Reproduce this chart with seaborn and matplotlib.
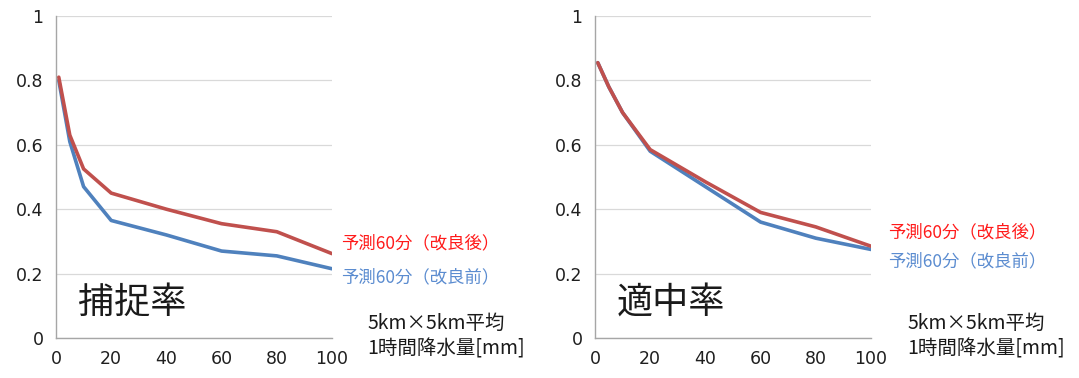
import matplotlib
matplotlib.use("Agg")
import matplotlib.pyplot as plt
import seaborn as sns
import pandas as pd

# 1-hour rainfall threshold, 5km x 5km average [mm]
rain_mm = [1, 5, 10, 20, 40, 60, 80, 100]

# Capture rate (捕捉率)
capture_after = [0.81, 0.63, 0.525, 0.45, 0.40, 0.355, 0.33, 0.262]
capture_before = [0.80, 0.61, 0.47, 0.365, 0.32, 0.27, 0.255, 0.215]

# Hit rate (適中率)
hit_after = [0.855, 0.78, 0.70, 0.585, 0.485, 0.39, 0.345, 0.285]
hit_before = [0.855, 0.78, 0.70, 0.58, 0.47, 0.36, 0.31, 0.275]

series_after = "予測60分（改良後）"
series_before = "予測60分（改良前）"
panel_titles = ["捕捉率", "適中率"]
xlabel_lines = "5km×5km平均\n1時間降水量[mm]"

x_ticks = [0, 20, 40, 60, 80, 100]
y_ticks = [0, 0.2, 0.4, 0.6, 0.8, 1]
y_tick_labels = ["0", "0.2", "0.4", "0.6", "0.8", "1"]

line_red = "#C0504D"
line_blue = "#4F81BD"
text_red = "#FF1A1A"
text_blue = "#5B8CD0"

sns.set_theme(style="white")
plt.rcParams["font.family"] = ["Noto Sans CJK JP", "DejaVu Sans"]

W, H = 1079, 378
fig = plt.figure(figsize=(W / 100, H / 100), dpi=100)
fig.patch.set_facecolor("white")

panels = [
    (capture_after, capture_before, 56, 332, (341, 243), (341, 277), 367),
    (hit_after, hit_before, 595, 871, (888, 232), (888, 261), 907),
]
top_px, bot_px = 16, 338

for i, (after, before, x0, x1, lab_a, lab_b, xl_px) in enumerate(panels):
    ax = fig.add_axes([x0 / W, 1 - bot_px / H, (x1 - x0) / W, (bot_px - top_px) / H])
    df = pd.DataFrame({
        "rain": rain_mm * 2,
        "rate": after + before,
        "series": [series_after] * len(rain_mm) + [series_before] * len(rain_mm),
    })
    sns.lineplot(data=df, x="rain", y="rate", hue="series",
                 hue_order=[series_before, series_after],
                 palette={series_after: line_red, series_before: line_blue},
                 linewidth=2.6, legend=False, ax=ax)
    ax.set_xlim(0, 100)
    ax.set_ylim(0, 1)
    ax.set_xticks(x_ticks)
    ax.set_yticks(y_ticks)
    ax.set_yticklabels(y_tick_labels)
    ax.set_xlabel("")
    ax.set_ylabel("")
    ax.grid(axis="y", color="#D9D9D9", linewidth=0.9)
    ax.set_axisbelow(True)
    for side in ["top", "right"]:
        ax.spines[side].set_visible(False)
    for side in ["left", "bottom"]:
        ax.spines[side].set_color("#A6A6A6")
        ax.spines[side].set_linewidth(1.0)
    ax.tick_params(axis="both", which="both", direction="out", length=5,
                   width=1.0, color="#A6A6A6", labelsize=12.5,
                   labelcolor="#1F1F1F", pad=4)
    for lbl in ax.get_xticklabels() + ax.get_yticklabels():
        lbl.set_fontfamily("DejaVu Sans")
    ax.set_facecolor("white")

    ax.text(0.08, 0.11, panel_titles[i], transform=ax.transAxes,
            fontsize=26, color="#1A1A1A", va="center", ha="left")

    fig.text(lab_a[0] / W, 1 - lab_a[1] / H, series_after, color=text_red,
             fontsize=12.5, va="center", ha="left")
    fig.text(lab_b[0] / W, 1 - lab_b[1] / H, series_before, color=text_blue,
             fontsize=12.5, va="center", ha="left")
    fig.text(xl_px / W, 1 - 336 / H, xlabel_lines,
             fontsize=14, color="#1A1A1A", va="center", ha="left",
             linespacing=1.25)

fig.savefig("out.png", dpi=100, facecolor="white")
